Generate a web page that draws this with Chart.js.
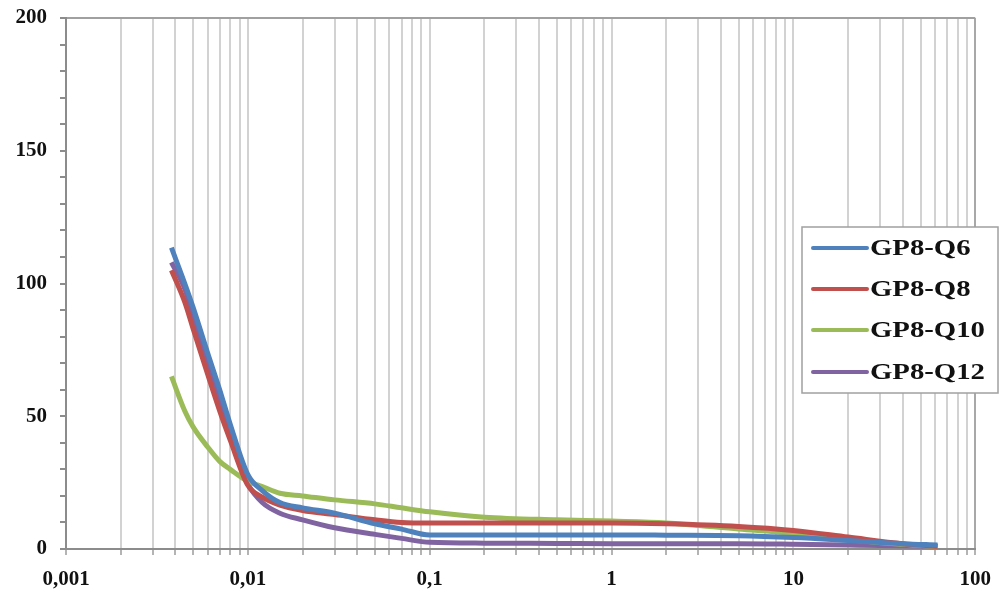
<!DOCTYPE html>
<html>
<head>
<meta charset="utf-8">
<style>
  html, body { margin: 0; padding: 0; background: #ffffff; }
  canvas { display: block; }
</style>
<script src="https://cdn.jsdelivr.net/npm/chart.js@4/dist/chart.umd.min.js"></script>
</head>
<body>
<canvas id="c" width="1003" height="589"></canvas>
<script>
// Shared x positions (log scale) for all four curves
const xValues = [0.0038, 0.0045, 0.005, 0.006, 0.007, 0.008, 0.01, 0.012, 0.015, 0.02, 0.03, 0.05, 0.07, 0.1, 0.2, 0.5, 1, 2, 5, 10, 20, 40, 62];

// Series values
const q6Values  = [113.5, 100, 91, 74, 60, 47, 28, 22, 17.5, 15.5, 13.5, 9.5, 7.5, 5.3, 5.3, 5.3, 5.3, 5.2, 5.0, 4.3, 3.2, 2.0, 1.5];
const q8Values  = [105, 93, 83, 66, 52, 41, 24, 19.5, 16.5, 14.5, 13, 11, 10, 9.8, 9.8, 9.8, 9.8, 9.5, 8.5, 7.0, 4.5, 2.0, 1.0];
const q10Values = [65, 52, 46, 38.5, 33, 30, 25.5, 23.5, 21, 20, 18.5, 17, 15.5, 14, 12, 11, 10.5, 9.8, 7.5, 5.8, 3.5, 1.8, 1.0];
const q12Values = [108, 98, 88, 70, 55, 42, 24.5, 17.5, 13.5, 11, 8, 5.5, 4, 2.5, 2.2, 2.1, 2.0, 2.0, 2.0, 1.8, 1.5, 1.2, 1.0];

const seriesLabels = ['GP8-Q6', 'GP8-Q8', 'GP8-Q10', 'GP8-Q12'];
const seriesColors = ['#4F81BD', '#C0504D', '#9BBB59', '#8064A2'];

// Axis tick labels
const decadeValues = [0.001, 0.01, 0.1, 1, 10, 100];
const decadeLabels = ['0,001', '0,01', '0,1', '1', '10', '100'];
const yLabelValues = [0, 50, 100, 150, 200];

const seriesValues = [q6Values, q8Values, q10Values, q12Values];

const datasets = seriesValues.map((vals, i) => ({
  label: seriesLabels[i],
  data: xValues.map((x, j) => ({ x: x, y: vals[j] })),
  borderColor: seriesColors[i],
  backgroundColor: seriesColors[i],
  borderWidth: 5,
  pointRadius: 0,
  showLine: true,
  cubicInterpolationMode: 'monotone',
  fill: false
}));

const AXIS_GREY = '#8c8c8c';
const GRID_GREY = '#d2d2d2';
const serifBold = { family: '"Liberation Serif", "Times New Roman", serif', weight: 'bold', size: 21 };

// Legend box drawn over the right part of the plot
const boxLegend = {
  id: 'boxLegend',
  afterDraw(chart) {
    const ctx = chart.ctx;
    const left = 802, top = 227, w = 196, h = 166;
    ctx.save();
    ctx.fillStyle = '#ffffff';
    ctx.fillRect(left, top, w, h);
    ctx.strokeStyle = '#a0a0a0';
    ctx.lineWidth = 1.5;
    ctx.strokeRect(left, top, w, h);
    const rows = [248, 289, 330, 372];
    chart.data.datasets.forEach((ds, i) => {
      const y = rows[i];
      ctx.strokeStyle = ds.borderColor;
      ctx.lineWidth = 4;
      ctx.lineCap = 'round';
      ctx.beginPath();
      ctx.moveTo(813, y);
      ctx.lineTo(867, y);
      ctx.stroke();
      ctx.save();
      ctx.translate(870, y + 1);
      ctx.scale(1.25, 1);
      ctx.fillStyle = '#111111';
      ctx.font = 'bold 23px "Liberation Serif", "Times New Roman", serif';
      ctx.textAlign = 'left';
      ctx.textBaseline = 'middle';
      ctx.fillText(ds.label, 0, 0);
      ctx.restore();
    });
    ctx.restore();
  }
};

new Chart(document.getElementById('c'), {
  type: 'scatter',
  data: { datasets: datasets },
  options: {
    responsive: false,
    animation: false,
    layout: { padding: { left: 0, top: 18, right: 24, bottom: 0 } },
    plugins: {
      legend: { display: false },
      tooltip: { enabled: false }
    },
    scales: {
      x: {
        type: 'logarithmic',
        min: 0.001,
        max: 100,
        afterBuildTicks(scale) {
          const t = [];
          for (let e = -3; e < 2; e++) {
            for (let k = 1; k < 10; k++) {
              t.push({ value: k * Math.pow(10, e) });
            }
          }
          t.push({ value: 100 });
          scale.ticks = t;
        },
        afterFit(scale) { scale.height = 40; },
        border: { color: AXIS_GREY, width: 2 },
        grid: {
          color: (c) => (c.tick && c.tick.value >= 99.9) ? '#a8a8a8' : GRID_GREY,
          lineWidth: 2,
          drawTicks: true,
          tickLength: 6,
          tickColor: '#b4b4b4'
        },
        ticks: {
          autoSkip: false,
          maxRotation: 0,
          padding: 12,
          color: '#111111',
          font: serifBold,
          callback(value) {
            const idx = decadeValues.findIndex(d => Math.abs(Math.log10(value) - Math.log10(d)) < 1e-6);
            return idx >= 0 ? decadeLabels[idx] : '';
          }
        }
      },
      y: {
        type: 'linear',
        min: 0,
        max: 200,
        afterFit(scale) {
          scale.width = 66;
          scale.paddingTop = 0;
          scale.paddingBottom = 0;
        },
        border: { color: AXIS_GREY, width: 2 },
        grid: {
          color: (c) => (c.tick && c.tick.value === 200) ? '#a0a0a0' : 'rgba(0,0,0,0)',
          lineWidth: 2,
          drawTicks: true,
          tickLength: 6,
          tickColor: AXIS_GREY
        },
        ticks: {
          stepSize: 10,
          maxTicksLimit: 50,
          autoSkip: false,
          padding: 13,
          color: '#111111',
          font: serifBold,
          callback(value) {
            return yLabelValues.includes(value) ? String(value) : '';
          }
        }
      }
    }
  },
  plugins: [boxLegend]
});
</script>
</body>
</html>
